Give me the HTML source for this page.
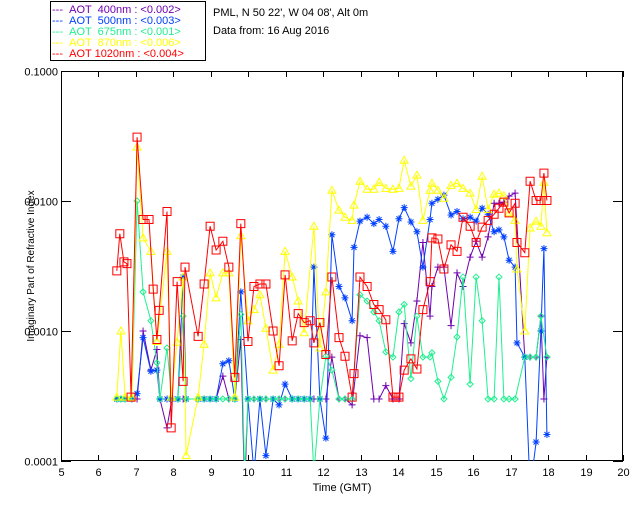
<!DOCTYPE html>
<html><head><meta charset="utf-8"><style>
body{margin:0;background:#fff;}
svg{display:block;font-family:"Liberation Sans",sans-serif;}
</style></head><body>
<svg id="chart" width="640" height="512" viewBox="0 0 640 512" xmlns="http://www.w3.org/2000/svg">
<rect width="640" height="512" fill="#fff"/>
<g>
<rect x="50.5" y="1.5" width="155" height="59" fill="#fff" stroke="#000"/>
<g font-size="11">
<text x="52" y="13" fill="#7000b0">--- &#160;AOT &#160;400nm : &lt;0.002&gt;</text>
<text x="52" y="24" fill="#0040ff">--- &#160;AOT &#160;500nm : &lt;0.003&gt;</text>
<text x="52" y="35" fill="#20f090">--- &#160;AOT &#160;675nm : &lt;0.001&gt;</text>
<text x="52" y="46" fill="#ffff00">--- &#160;AOT &#160;870nm : &lt;0.006&gt;</text>
<text x="52" y="57" fill="#ff0000">--- &#160;AOT 1020nm : &lt;0.004&gt;</text>
</g></g>
<text x="213" y="16" font-size="11">PML, N 50 22', W 04 08', Alt 0m</text>
<text x="213" y="34" font-size="11">Data from: 16 Aug 2016</text>
<text transform="translate(34,266) rotate(-90)" text-anchor="middle" font-size="10">Imaginary Part of Refractive Index</text>
<text x="342" y="491" text-anchor="middle" font-size="11">Time (GMT)</text>
<defs><clipPath id="plotclip"><rect x="61" y="71" width="562" height="390"/></clipPath></defs>
<g id="axes"></g>
<g id="series" clip-path="url(#plotclip)"></g>
</svg>
<script>
const xTicks=[5,6,7,8,9,10,11,12,13,14,15,16,17,18,19,20];
const yTicks=[0.1,0.01,0.001,0.0001];
const yTickLabels=["0.1000","0.0100","0.0010","0.0001"];

const t400=[6.49,6.6,6.71,6.89,7.03,7.19,7.40,7.56,7.64,7.83,7.96,8.12,8.26,8.34,8.66,8.82,8.98,9.14,9.32,9.48,9.64,9.80,9.9,9.99,10.15,10.31,10.47,10.66,10.82,10.98,11.17,11.33,11.49,11.65,11.75,11.91,12.07,12.23,12.42,12.58,12.77,12.98,13.17,13.35,13.49,13.67,13.86,14.02,14.16,14.34,14.50,14.66,14.85,14.90,15.06,15.22,15.41,15.57,15.73,15.92,16.08,16.24,16.40,16.56,16.69,16.82,16.96,17.12,17.38,17.52,17.68,17.81,17.89,17.97];
const v400=[.0003,.0003,.0003,.0003,.0003,.001,.0005,.00072,.0003,.00018,.0003,.0003,.0003,.0003,.0003,.0003,.0003,.0003,.00045,.0003,.0003,.00086,.00006,.0003,.0003,.0003,.0003,.0003,.0003,.0003,.0003,.0003,.0003,.0003,.0003,.0003,.0003,.00063,.0003,.0003,.00027,.00092,.00089,.0003,.0003,.00038,.0003,.0003,.00114,.00081,.0017,.0048,.0013,.0022,.0031,.0031,.0011,.0028,.0022,.0037,.0049,.0037,.0053,.0096,.0096,.0098,.0109,.0115,.00063,.00063,.00063,.0013,.0003,.00063];

const t500=[6.49,6.6,6.71,6.89,7.03,7.19,7.40,7.56,7.64,7.83,7.96,8.12,8.26,8.34,8.66,8.82,8.98,9.14,9.32,9.48,9.64,9.80,9.99,10.15,10.31,10.47,10.66,10.82,10.98,11.17,11.33,11.49,11.65,11.75,11.91,12.07,12.23,12.42,12.58,12.77,12.82,12.98,13.17,13.35,13.49,13.67,13.86,14.02,14.16,14.34,14.50,14.66,14.85,14.90,15.06,15.22,15.41,15.57,15.73,15.92,16.08,16.24,16.40,16.56,16.69,16.82,16.96,17.12,17.17,17.38,17.52,17.68,17.81,17.89,17.97];
const v500=[.0003,.0003,.0003,.0003,.00033,.00089,.00049,.0005,.0003,.0003,.0003,.0003,.0026,.0003,.0003,.0003,.0003,.0003,.00056,.00059,.0003,.002,.0003,.00008,.0003,.00011,.0003,.00027,.00039,.0003,.0003,.0003,.0003,.0031,.0003,.00015,.0055,.0022,.0018,.0012,.0044,.007,.0075,.0067,.0072,.0064,.0041,.0073,.0089,.0069,.0058,.0031,.0072,.0096,.0103,.0111,.0078,.0083,.0073,.0075,.007,.0088,.0079,.0058,.006,.0053,.0035,.0031,.00081,.00063,.00006,.00014,.001,.0043,.00016];

const t675=[6.49,6.6,6.71,6.89,7.03,7.19,7.40,7.56,7.64,7.83,7.96,8.12,8.26,8.34,8.66,8.82,8.98,9.14,9.32,9.48,9.64,9.80,9.9,9.99,10.15,10.31,10.47,10.66,10.82,10.98,11.17,11.33,11.49,11.65,11.75,11.91,12.07,12.23,12.42,12.58,12.77,12.98,13.17,13.35,13.49,13.67,13.86,14.02,14.16,14.34,14.50,14.66,14.85,14.90,15.06,15.22,15.41,15.57,15.73,15.92,16.08,16.24,16.40,16.56,16.69,16.82,16.96,17.12,17.38,17.52,17.68,17.81,17.97];
const v675=[.0003,.0003,.0003,.0003,.01,.002,.0012,.00057,.0003,.00074,.0003,.0003,.0013,.0003,.0003,.0003,.0003,.0003,.0003,.0003,.0003,.00134,.00008,.0003,.0003,.0003,.0003,.0003,.0003,.0003,.0003,.0003,.0003,.0003,.00008,.0003,.00064,.0005,.0003,.0003,.0003,.0019,.0017,.0014,.0012,.00069,.00063,.0014,.0016,.00043,.0013,.00063,.00063,.00068,.00041,.0003,.00044,.0009,.0026,.00039,.0026,.0012,.0003,.0003,.0026,.0003,.0003,.0003,.00063,.00063,.00063,.0013,.00063];

const t870=[6.49,6.60,6.71,6.89,7.03,7.19,7.40,7.56,7.83,7.94,8.10,8.26,8.34,8.66,8.82,8.98,9.14,9.32,9.48,9.64,9.80,9.99,10.15,10.31,10.47,10.66,10.82,10.98,11.17,11.33,11.49,11.75,11.91,12.07,12.23,12.42,12.58,12.77,12.82,12.98,13.17,13.35,13.49,13.67,13.86,14.02,14.16,14.34,14.50,14.66,14.85,14.90,15.06,15.22,15.41,15.57,15.73,15.92,16.08,16.24,16.40,16.56,16.69,16.82,16.96,17.12,17.17,17.38,17.52,17.68,17.81,17.89,17.97];
const v870=[.00031,.001,.00031,.00031,.026,.0052,.0041,.00083,.0041,.00031,.00082,.0026,.00011,.00031,.00079,.0028,.0018,.0028,.0028,.00031,.0054,.0012,.00146,.0019,.00105,.0005,.00079,.0041,.0026,.0017,.00097,.0064,.00074,.002,.0121,.0085,.0075,.0071,.0093,.0142,.0123,.0123,.0139,.0125,.0123,.0125,.0206,.013,.0158,.0071,.0121,.0137,.0121,.0105,.0132,.0137,.0125,.0115,.0086,.0155,.0086,.0113,.0115,.011,.0081,.0071,.003,.001,.0062,.007,.0064,.0139,.0057];

const t1020=[6.49,6.57,6.68,6.76,6.87,7.03,7.19,7.35,7.46,7.56,7.62,7.83,7.94,8.10,8.26,8.31,8.66,8.82,8.98,9.14,9.32,9.48,9.64,9.80,9.99,10.15,10.31,10.47,10.66,10.82,10.98,11.17,11.33,11.49,11.65,11.75,11.91,12.07,12.23,12.42,12.58,12.77,12.82,12.98,13.17,13.35,13.49,13.67,13.86,13.94,14.02,14.16,14.34,14.50,14.66,14.85,14.90,15.06,15.22,15.41,15.57,15.73,15.92,16.08,16.24,16.40,16.56,16.69,16.82,16.96,17.12,17.17,17.38,17.52,17.68,17.81,17.89,17.97];
const v1020=[.0029,.0056,.0034,.0033,.00031,.031,.0072,.0072,.0021,.00086,.00144,.0083,.00018,.0024,.00041,.0031,.00091,.0023,.0064,.0042,.0049,.0031,.00044,.0067,.00083,.0022,.0023,.0023,.001,.00054,.0027,.00084,.00136,.00116,.0012,.00081,.00116,.00066,.0026,.00089,.00064,.00031,.00047,.0026,.0022,.0016,.00146,.00122,.00031,.00031,.00031,.0005,.00061,.00051,.00146,.0024,.0052,.0051,.003,.0046,.0041,.0075,.0064,.0048,.0063,.0071,.0079,.0088,.0098,.0081,.0096,.0048,.004,.0142,.0101,.0101,.0164,.0101];

const X0=61,X1=623,Y0=71,Y1=461;
function xs(t){return X0+(t-5)/15*(X1-X0);}
function ys(v){return Y0+(-1-Math.log10(v))/3*(Y1-Y0);}
const NS='http://www.w3.org/2000/svg';
function mk(tag,attrs,parent){const e=document.createElementNS(NS,tag);for(const k in attrs)e.setAttribute(k,attrs[k]);parent.appendChild(e);return e;}

const axes=document.getElementById('axes');
const frame=mk('rect',{x:X0+0.5,y:Y0+0.5,width:X1-X0-1,height:Y1-Y0-1,fill:'none',stroke:'#000'},axes);


xTicks.forEach(t=>{
  const x=Math.round(xs(t))+0.5;
  const tb=mk('line',{x1:x,x2:x,y1:Y1,y2:Y1-6,stroke:'#000'},axes);
  
  
  const tt=mk('line',{x1:x,x2:x,y1:Y0,y2:Y0+6,stroke:'#000'},axes);
  
  
  const lb=mk('text',{x:x,y:Y1+15,'text-anchor':'middle','font-size':'11'},axes);
  lb.textContent=String(t);
  
  
});
yTicks.forEach((v,i)=>{
  const y=Math.round(ys(v))+0.5;
  const tk=mk('line',{x1:X0,x2:X0+10,y1:y,y2:y,stroke:'#000'},axes);
  
  
  const tr=mk('line',{x1:X1,x2:X1-10,y1:y,y2:y,stroke:'#000'},axes);
  
  
  const lb=mk('text',{x:X0-3,y:y+4,'text-anchor':'end','font-size':'11'},axes);
  lb.textContent=yTickLabels[i];
  
  
});

const sg=document.getElementById('series');
function marker(kind,x,y,col,g){
  let d;
  if(kind==='plus')d=`M${x-3.5},${y}H${x+3.5}M${x},${y-3.5}V${y+3.5}`;
  else if(kind==='star')d=`M${x-3.5},${y}H${x+3.5}M${x},${y-3.5}V${y+3.5}M${x-2.5},${y-2.5}L${x+2.5},${y+2.5}M${x-2.5},${y+2.5}L${x+2.5},${y-2.5}`;
  else if(kind==='diamond')d=`M${x},${y-3}L${x+3},${y}L${x},${y+3}L${x-3},${y}Z`;
  else if(kind==='tri')d=`M${x},${y-4}L${x+4},${y+3}L${x-4},${y+3}Z`;
  else d=`M${x-4},${y-4}H${x+4}V${y+4}H${x-4}Z`;
  const m=mk('path',{d:d,fill:'none',stroke:col,'stroke-width':1},g);
  
  
}
function series(name,ts,vs,col,kind){
  const g=mk('g',{},sg);
  
  
  const pts=ts.map((t,i)=>xs(t).toFixed(1)+','+ys(vs[i]).toFixed(1)).join(' ');
  const l=mk('polyline',{points:pts,fill:'none',stroke:col,'stroke-width':1},g);
  
  
  ts.forEach((t,i)=>marker(kind,xs(t),ys(vs[i]),col,g));
}
series('series-400nm',t400,v400,'#7000b0','plus');
series('series-500nm',t500,v500,'#0040ff','star');
series('series-675nm',t675,v675,'#20f090','diamond');
series('series-870nm',t870,v870,'#ffff00','tri');
series('series-1020nm',t1020,v1020,'#ff0000','square');
</script>
</body></html>
